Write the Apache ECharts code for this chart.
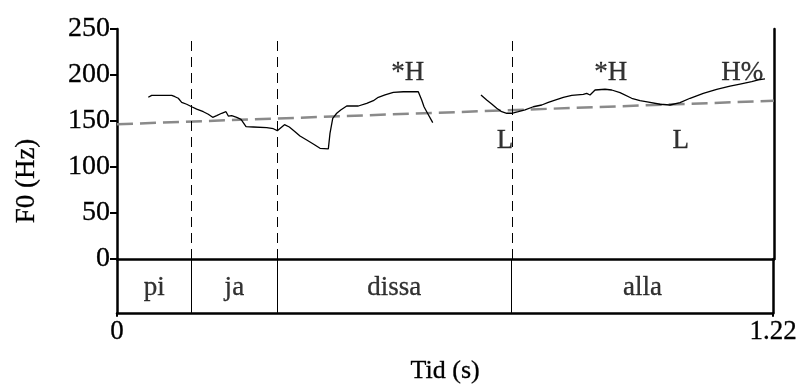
<!DOCTYPE html>
<html>
<head>
<meta charset="utf-8">
<script src="https://cdn.jsdelivr.net/npm/echarts@6/dist/echarts.min.js"></script>
<style>html,body{margin:0;padding:0;background:#fff}#c{width:800px;height:385px}</style>
</head>
<body>
<div id="c"></div>
<script>
// F0 contour, first voiced stretch (time s, Hz)
const seg1T  = [0.0581,0.0644,0.1016,0.1077,0.1138,0.1201,0.1294,0.1387,0.1480,0.1603,0.1695,0.1777,0.1851,0.1944,0.2024,0.2067,0.2130,0.2223,0.2303,0.2396,0.2531,0.2780,0.2903,0.2977,0.3110,0.3200,0.3306,0.3398,0.3523,0.3645,0.3770,0.3924,0.3955,0.4006,0.4080,0.4154,0.4266,0.4481,0.4637,0.4760,0.4852,0.4977,0.5131,0.5317,0.5473,0.5502,0.5595,0.5658,0.5701,0.5751,0.5863];
const seg1Hz = [175.8,177.9,177.9,176.4,174.7,170.3,168.2,165.5,163.0,160.1,157.3,154.0,155.8,158.4,160.1,155.4,155.8,154.0,151.8,143.8,143.5,142.7,141.6,139.5,146.0,143.5,138.4,133.7,129.3,125.0,120.3,119.6,136.6,152.9,158.4,162.0,166.3,166.3,169.2,172.1,175.8,178.3,181.2,181.8,181.8,183.7,181.8,172.8,165.5,160.1,148.2];
// second voiced stretch
const seg2T  = [0.6759,0.6865,0.6958,0.7051,0.7144,0.7237,0.7330,0.7452,0.7577,0.7731,0.7887,0.8009,0.8134,0.8288,0.8444,0.8659,0.8722,0.8784,0.8877,0.9062,0.9186,0.9341,0.9558,0.9712,0.9898,1.0084,1.0269,1.0455,1.0641,1.0887,1.1136,1.1383,1.1569,1.1786,1.1909,1.2033];
const seg2Hz = [178.3,172.8,168.5,163.8,160.1,158.4,158.4,160.1,162.0,165.5,167.4,170.3,172.8,175.8,177.9,179.0,180.1,178.3,183.7,184.5,183.7,180.8,174.7,172.1,170.3,168.2,167.4,169.9,174.7,180.1,184.5,188.0,190.2,192.7,194.6,195.7];
// trend (declination) line
const trendT  = [0, 1.22];
const trendHz = [146.5, 172];
// word boundaries and words
const boundaries = [0.1387, 0.2977, 0.7335];
const words = ['pi', 'ja', 'dissa', 'alla'];
const tMax = 1.22;
// tonal labels
const tones   = ['*H', 'L', '*H', 'L', 'H%'];
const toneT   = [0.540, 0.7205, 0.917, 1.047, 1.161];
const toneHz  = [202, 128, 202, 128, 202];
// axes
const yMin = 0, yMax = 250, yStep = 50;
const xTickLabels = {'0': '0', '1.22': '1.22'};

const FONT = '"Liberation Serif", "Times New Roman", serif';
const zip = (a, b) => a.map((v, i) => [v, b[i]]);
const edges = [0].concat(boundaries, [tMax]);
const wordData = words.map((w, i) => ({ value: [(edges[i] + edges[i + 1]) / 2, 0.47], name: w }));
const toneData = tones.map((t, i) => ({ value: [toneT[i], toneHz[i]], name: t }));

const chart = echarts.init(document.getElementById('c'), null, { renderer: 'canvas' });
const noAxisExtras = { axisTick: { show: false }, axisLabel: { show: false }, splitLine: { show: false } };
const txt = { color: '#000', fontFamily: FONT, textBorderColor: '#000', textBorderWidth: 0.3 };
chart.setOption({
  animation: false,
  backgroundColor: '#fff',
  grid: [
    { left: 117, top: 29, width: 657, height: 230 },
    { left: 117, top: 259, width: 657, height: 59 }
  ],
  xAxis: [
    Object.assign({ gridIndex: 0, type: 'value', min: 0, max: tMax, position: 'top',
      axisLine: { show: true, lineStyle: { color: '#000', width: 2.5 } } }, noAxisExtras),
    { gridIndex: 1, type: 'value', min: 0, max: tMax, interval: tMax, position: 'bottom',
      axisLine: { show: true, onZero: false, lineStyle: { color: '#000', width: 2.5 } },
      axisTick: { show: true, inside: false, length: 4, lineStyle: { color: '#000', width: 2 } },
      axisLabel: Object.assign({ show: true, margin: 6, fontSize: 27,
        formatter: v => xTickLabels[String(v)] !== undefined ? xTickLabels[String(v)] : '' }, txt),
      splitLine: { show: false },
      name: 'Tid (s)', nameLocation: 'middle', nameGap: 45,
      nameTextStyle: Object.assign({ fontSize: 26 }, txt) },
    Object.assign({ gridIndex: 1, type: 'value', min: 0, max: tMax, position: 'top',
      axisLine: { show: true, onZero: false, lineStyle: { color: '#000', width: 1 } } }, noAxisExtras)
  ],
  yAxis: [
    { gridIndex: 0, type: 'value', min: yMin, max: yMax, interval: yStep, position: 'left',
      axisLine: { show: true, onZero: false, lineStyle: { color: '#000', width: 2.5 } },
      axisTick: { show: true, inside: false, length: 7, lineStyle: { color: '#000', width: 2 } },
      axisLabel: Object.assign({ show: true, margin: 7, fontSize: 28 }, txt),
      splitLine: { show: false } },
    Object.assign({ gridIndex: 0, type: 'value', min: yMin, max: yMax, position: 'right',
      axisLine: { show: true, onZero: false, lineStyle: { color: '#000', width: 2.5 } } }, noAxisExtras),
    Object.assign({ gridIndex: 1, type: 'value', min: 0, max: 1, position: 'left',
      axisLine: { show: true, onZero: false, lineStyle: { color: '#000', width: 2.5 } } }, noAxisExtras),
    Object.assign({ gridIndex: 1, type: 'value', min: 0, max: 1, position: 'right',
      axisLine: { show: true, onZero: false, lineStyle: { color: '#000', width: 2.5 } } }, noAxisExtras)
  ],
  graphic: [
    { type: 'text', x: 27, y: 181, rotation: Math.PI / 2,
      style: { text: 'F0 (Hz)', fill: '#000', stroke: '#000', lineWidth: 0.3, font: '27px ' + FONT, align: 'center', verticalAlign: 'middle' } }
  ],
  series: [
    { type: 'line', xAxisIndex: 0, yAxisIndex: 0, data: zip(trendT, trendHz), symbol: 'none', silent: true,
      lineStyle: { color: '#8a8a8a', width: 2.5, type: [16, 7] }, z: 2,
      markLine: { silent: true, symbol: 'none', label: { show: false },
        lineStyle: { color: '#000', width: 1, type: [10, 6] },
        data: boundaries.map(b => [{ coord: [b, 0] }, { coord: [b, 243] }]) } },
    { type: 'line', xAxisIndex: 0, yAxisIndex: 0, data: zip(seg1T, seg1Hz), symbol: 'none', silent: true,
      lineStyle: { color: '#000', width: 1.3 }, z: 3 },
    { type: 'line', xAxisIndex: 0, yAxisIndex: 0, data: zip(seg2T, seg2Hz), symbol: 'none', silent: true,
      lineStyle: { color: '#000', width: 1.3 }, z: 3 },
    { type: 'scatter', xAxisIndex: 0, yAxisIndex: 0, data: toneData, symbolSize: 0.1, silent: true,
      itemStyle: { color: 'transparent' },
      label: Object.assign({ show: true, position: 'inside', formatter: p => p.name, fontSize: 27 }, txt) },
    { type: 'scatter', xAxisIndex: 1, yAxisIndex: 2, data: wordData, symbolSize: 0.1, silent: true,
      itemStyle: { color: 'transparent' },
      label: Object.assign({ show: true, position: 'inside', formatter: p => p.name, fontSize: 27 }, txt),
      markLine: { silent: true, symbol: 'none', label: { show: false },
        lineStyle: { color: '#000', width: 1, type: 'solid' },
        data: boundaries.map(b => [{ coord: [b, 0] }, { coord: [b, 1] }]) } }
  ]
});
</script>
</body>
</html>
